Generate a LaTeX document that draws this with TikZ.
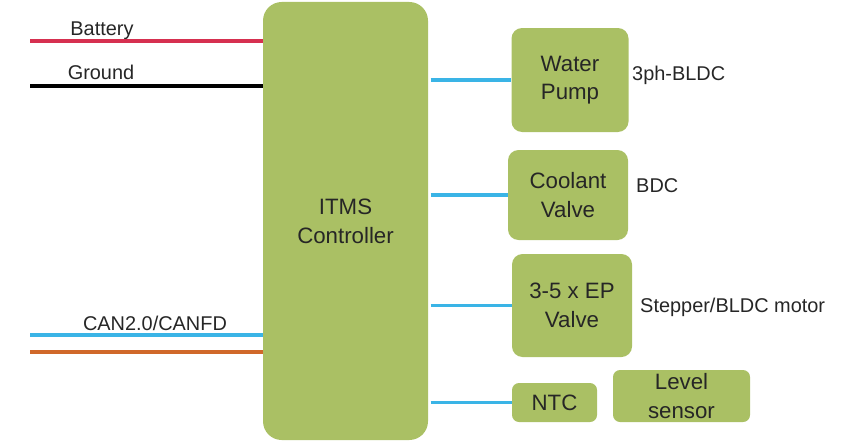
\documentclass[tikz,border=0pt]{standalone}
\usepackage{fontspec}
\setmainfont{Liberation Sans}
\usetikzlibrary{positioning}

\definecolor{boxgreen}{RGB}{170,192,100}
\definecolor{wireblue}{RGB}{58,180,230}
\definecolor{wirered}{RGB}{214,48,80}
\definecolor{wireorange}{RGB}{208,104,42}
\definecolor{ink}{RGB}{38,38,38}

\begin{document}
\begin{tikzpicture}[
  x=0.03cm, y=-0.03cm,
  blk/.style={fill=boxgreen, rounded corners=9pt, align=center, text=ink,
              font=\fontsize{19}{24.5}\selectfont, inner sep=0pt},
  lbl/.style={font=\fontsize{17}{20}\selectfont, text=ink, inner sep=0pt},
  wire/.style={line width=2.7pt},
  bus/.style={wire, wireblue}
]
\useasboundingbox (0,0) rectangle (853,441);

% controller and loads
\node[blk, minimum width=4.95cm, minimum height=13.14cm, rounded corners=16pt] (ctrl) at (345.5,221) {ITMS\\Controller};
\node[blk, minimum width=3.51cm, minimum height=3.12cm] (pump)    at (570,80)    {Water\\Pump};
\node[blk, minimum width=3.6cm,  minimum height=2.7cm]  (coolant) at (568,195)   {Coolant\\Valve};
\node[blk, minimum width=3.6cm,  minimum height=3.09cm] (ep)      at (572,305.5) {3-5 x EP\\Valve};
\node[blk, minimum width=2.55cm, minimum height=1.17cm, rounded corners=6pt] (ntc)   at (554.5,402.5) {NTC};
\node[blk, minimum width=4.11cm, minimum height=1.56cm, rounded corners=6pt] (level) at (681.5,396)   {Level\\sensor};

% motor type labels
\node[lbl, anchor=west] (pumplbl)    at (632,75)  {3ph-BLDC};
\node[lbl, anchor=west] (coolantlbl) at (636,186) {BDC};
\node[lbl, anchor=west] (eplbl)      at (640,307) {Stepper/BLDC motor};

% supply and bus inputs
\coordinate (batt) at (30,41);
\coordinate (gnd)  at (30,86);
\coordinate (canh) at (30,335);
\coordinate (canl) at (30,352);
\node[lbl] (battlbl) at (102,31)  {Battery};
\node[lbl] (gndlbl)  at (101,72)  {Ground};
\node[lbl] (canlbl)  at (155,323) {CAN2.0/CANFD};

\draw[wire, wirered]    (batt) -- (batt -| ctrl.west);
\draw[wire, black]      (gnd)  -- (gnd -| ctrl.west);
\draw[wire, wireblue]   (canh) -- (canh -| ctrl.west);
\draw[wire, wireorange] (canl) -- (canl -| ctrl.west);

\draw[bus] ([xshift=2pt]ctrl.east |- pump.west)    -- (pump.west);
\draw[bus] ([xshift=2pt]ctrl.east |- coolant.west) -- (coolant.west);
\draw[bus] ([xshift=2pt]ctrl.east |- ep.west)      -- (ep.west);
\draw[bus] ([xshift=2pt]ctrl.east |- ntc.west)     -- (ntc.west);

\end{tikzpicture}
\end{document}
